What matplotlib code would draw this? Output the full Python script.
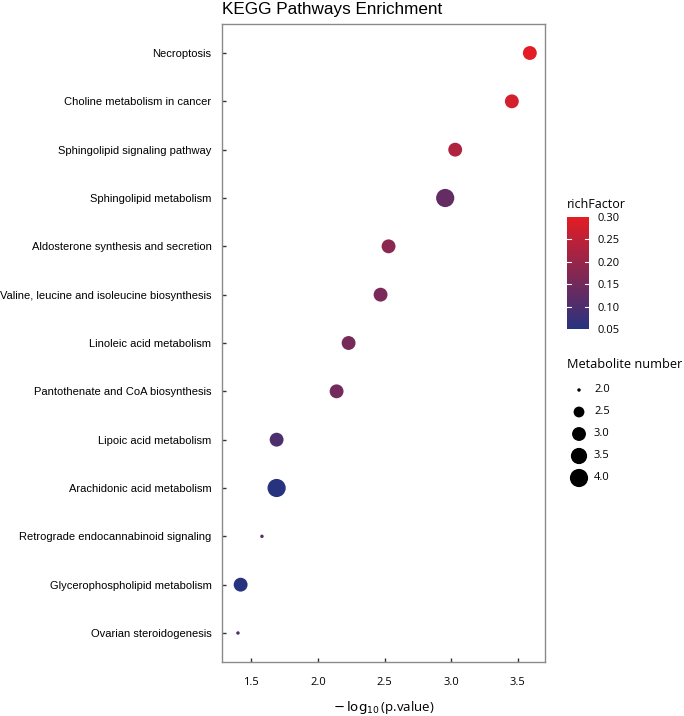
import numpy as np
import matplotlib.pyplot as plt
from matplotlib.colors import LinearSegmentedColormap, Normalize

# data
pathways = ["Necroptosis", "Choline metabolism in cancer", "Sphingolipid signaling pathway",
            "Sphingolipid metabolism", "Aldosterone synthesis and secretion",
            "Valine, leucine and isoleucine biosynthesis", "Linoleic acid metabolism",
            "Pantothenate and CoA biosynthesis", "Lipoic acid metabolism",
            "Arachidonic acid metabolism", "Retrograde endocannabinoid signaling",
            "Glycerophospholipid metabolism", "Ovarian steroidogenesis"]
neglog_p = [3.59, 3.455, 3.03, 2.955, 2.53, 2.47, 2.23, 2.14, 1.69, 1.69, 1.58, 1.42, 1.40]
rich_factor = [0.30, 0.28, 0.23, 0.13, 0.18, 0.16, 0.155, 0.15, 0.10, 0.05, 0.12, 0.05, 0.10]
metab_num = [3, 3, 3, 4, 3, 3, 3, 3, 3, 4, 2, 3, 2]

x_ticks = [1.5, 2.0, 2.5, 3.0, 3.5]
cbar_ticks = [0.05, 0.10, 0.15, 0.20, 0.25, 0.30]
size_levels = [2.0, 2.5, 3.0, 3.5, 4.0]

W, H = 684, 716
fig = plt.figure(figsize=(W / 100, H / 100), dpi=100)

def px_axes(x0, y0, x1, y1):
    return fig.add_axes([x0 / W, 1 - y1 / H, (x1 - x0) / W, (y1 - y0) / H])

cmap = LinearSegmentedColormap.from_list("rf", ["#283380", "#E31D25"])
norm = Normalize(0.05, 0.30)

def size_pt2(v):
    # ggplot style area scale, diameter in px -> points^2
    d = 2.95 * (1 + 5 * np.sqrt((np.asarray(v) - 2) / 2)) + 0.5
    return (d * 0.72) ** 2

ax = px_axes(222.5, 24, 544.5, 662)
ypos = np.arange(len(pathways))[::-1] + 1
ax.scatter(neglog_p, ypos, s=size_pt2(metab_num), c=rich_factor, cmap=cmap, norm=norm,
           linewidths=0, zorder=3)
ax.set_xlim(1.284, 3.70)
ax.set_ylim(0.4, len(pathways) + 0.6)
ax.set_yticks(ypos)
ax.set_yticklabels(pathways, fontsize=8, family="Liberation Sans")
ax.set_xticks(x_ticks)
ax.set_xticklabels([f"{t:.1f}" for t in x_ticks], fontsize=8, family="Open Sans")
for sp in ax.spines.values():
    sp.set_color("#8a8a8a")
    sp.set_linewidth(1.0)
ax.tick_params(direction="in", length=3, width=1, color="#333333")
ax.tick_params(axis="y", pad=8)
ax.tick_params(axis="x", pad=10.5)
ax.set_xlabel(r"$-\,\log_{10}$(p.value)", fontsize=9.5, family="Open Sans", labelpad=8)
ax.set_title("KEGG Pathways Enrichment", fontsize=12.3, family="Liberation Sans",
             loc="left", pad=7)

# colorbar
cax = px_axes(567, 217, 589, 329)
grad = np.linspace(0.05, 0.30, 200).reshape(-1, 1)
cax.imshow(grad, aspect="auto", cmap=cmap, norm=norm, origin="lower",
           extent=[0, 1, 0.05, 0.30])
for t in cbar_ticks[1:-1]:
    cax.plot([0, 0.2], [t, t], color="white", lw=0.8)
    cax.plot([0.8, 1], [t, t], color="white", lw=0.8)
cax.set_xlim(0, 1)
cax.set_ylim(0.05, 0.30)
cax.set_xticks([])
cax.yaxis.tick_right()
cax.set_yticks(cbar_ticks)
cax.set_yticklabels([f"{t:.2f}" for t in cbar_ticks], fontsize=8, family="Open Sans")
cax.tick_params(length=0, pad=6)
for sp in cax.spines.values():
    sp.set_visible(False)
fig.text(567 / W, 1 - 205 / H, "richFactor", fontsize=9, family="Open Sans", va="center")

# size legend
fig.text(567 / W, 1 - 365 / H, "Metabolite number", fontsize=9.2, family="Open Sans", va="center")
lax = px_axes(560, 379, 640, 489)
ly = np.arange(len(size_levels))[::-1]
lax.scatter(np.zeros(len(size_levels)), ly, s=size_pt2(size_levels), color="black", linewidths=0)
for yy, v in zip(ly, size_levels):
    lax.text(0.75, yy, f"{v:.1f}", fontsize=8, family="Open Sans", va="center")
lax.set_xlim(-0.95, 3.05)
lax.set_ylim(-0.5, len(size_levels) - 0.5)
lax.axis("off")

fig.savefig("out.png", dpi=100)
